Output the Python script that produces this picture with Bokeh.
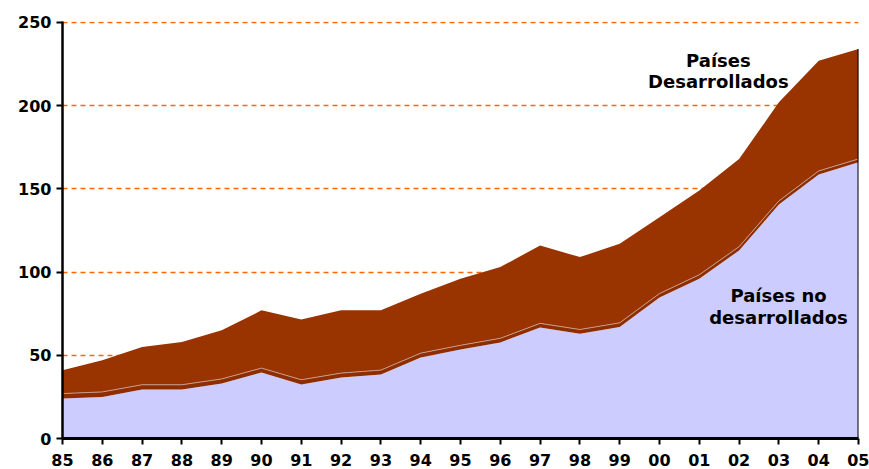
import numpy as np
from bokeh.plotting import figure
from bokeh.models import Range1d, FixedTicker, Label
from bokeh.embed import file_html
from bokeh.resources import INLINE

years = list(range(1985, 2006))
year_labels = ["85", "86", "87", "88", "89", "90", "91", "92", "93", "94", "95",
               "96", "97", "98", "99", "00", "01", "02", "03", "04", "05"]
no_desarrollados = [24, 25, 29.5, 29.5, 33, 39.7, 32.5, 36.7, 38.5, 48.7, 53.5,
                    57.7, 66.7, 63, 67, 84.7, 96, 113, 140.6, 158.7, 166]
transicion = [3, 3, 2.8, 2.8, 2.8, 2.6, 2.8, 2.6, 2.6, 2.6, 2.5,
              2.5, 2.5, 2.5, 2.5, 2.4, 2.4, 2.3, 2.2, 2.1, 2.0]
total = [41, 47, 55, 58, 65, 77, 71.5, 77, 77, 87, 96,
         103, 116, 109, 117, 133, 149, 168, 202, 227, 234]
y_ticks = [0, 50, 100, 150, 200, 250]

low = np.array(no_desarrollados)
mid = low + np.array(transicion)
top = np.array(total)
x = np.array(years)

p = figure(width=869, height=469, output_backend="svg", toolbar_location=None,
           x_range=Range1d(years[0], years[-1]), y_range=Range1d(0, 250.6),
           min_border_left=62, min_border_right=11, min_border_top=21,
           min_border_bottom=31)
p.outline_line_color = None
p.background_fill_color = "white"

p.varea(x=x, y1=0, y2=low, fill_color="#CCCCFF")
p.varea(x=x, y1=low, y2=mid, fill_color="#8E2E00")
p.varea(x=x, y1=mid, y2=top, fill_color="#993300")
p.line(x=x, y=mid, line_color="#C89A88", line_width=1)
p.segment(x0=[years[-1]], y0=[0], x1=[years[-1]], y1=[total[-1]],
          line_color="black", line_width=2)

p.xgrid.grid_line_color = None
p.ygrid.grid_line_color = "#FF6600"
p.ygrid.grid_line_dash = "5 4"
p.ygrid.grid_line_width = 1.3
p.ygrid.ticker = FixedTicker(ticks=y_ticks[1:])

p.yaxis.ticker = FixedTicker(ticks=y_ticks)
p.xaxis.ticker = FixedTicker(ticks=years)
p.xaxis.major_label_overrides = {yr: lab for yr, lab in zip(years, year_labels)}

for ax in (p.xaxis, p.yaxis):
    ax.axis_line_color = "black"
    ax.major_tick_line_color = "black"
    ax.major_tick_line_width = 2
    ax.major_tick_out = 6
    ax.major_tick_in = 0
    ax.minor_tick_line_color = None
    ax.major_label_text_font = "DejaVu Sans"
    ax.major_label_text_font_style = "bold"
    ax.major_label_text_font_size = "16px"
    ax.major_label_text_color = "black"
p.yaxis.axis_line_width = 2.5
p.xaxis.axis_line_width = 3
p.xaxis.major_label_standoff = 9
p.yaxis.major_label_standoff = 5

def add_label(xv, yv, txt):
    p.add_layout(Label(x=xv, y=yv, text=txt, text_align="center",
                       text_baseline="middle", text_font="DejaVu Sans",
                       text_font_style="bold", text_font_size="18px",
                       text_color="black"))

add_label(2001.48, 227, "Países")
add_label(2001.48, 214.5, "Desarrollados")
add_label(2002.99, 86, "Países no")
add_label(2002.99, 73, "desarrollados")

open("out.html", "w").write(file_html(p, INLINE))
